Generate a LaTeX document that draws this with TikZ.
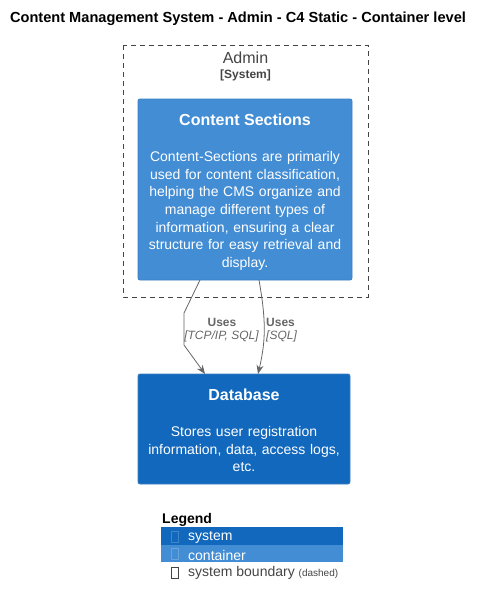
\documentclass[tikz,border=0pt]{standalone}
\usepackage{fontspec}
\setmainfont{Liberation Sans}
\usetikzlibrary{arrows.meta}
\definecolor{sysblue}{HTML}{1168BD}
\definecolor{sysborder}{HTML}{3C7FC0}
\definecolor{contblue}{HTML}{438DD5}
\definecolor{contborder}{HTML}{3C7FC0}
\definecolor{relgray}{HTML}{666666}
\definecolor{bndgray}{HTML}{444444}
\newcommand{\fsz}[1]{\fontsize{#1}{#1}\selectfont}
\tikzset{
  cbox/.style={draw=contborder, fill=contblue, rounded corners=2pt, line width=0.8pt},
  sbox/.style={draw=sysborder, fill=sysblue, rounded corners=2pt, line width=0.8pt},
  boxtitle/.style={text=white, font=\fsz{16}\bfseries, anchor=center, inner sep=0},
  boxtext/.style={text=white, font=\fontsize{14}{17.7}\selectfont, align=center, anchor=north, inner sep=0},
  rel/.style={draw=relgray, line width=0.8pt, -{Stealth[length=9pt,width=7pt]}},
  rellabel/.style={text=relgray, inner sep=0, anchor=center},
  boundary/.style={draw=bndgray, dashed, dash pattern=on 5pt off 4pt, line width=0.8pt},
}
\begin{document}
\begin{tikzpicture}[x=1pt,y=-1pt]
\useasboundingbox (0,0) rectangle (483,605);
% title
\node[font=\fsz{14.6}\bfseries, inner sep=0] (title) at (238,19) {Content Management System - Admin - C4 Static - Container level};
% boundary
\draw[boundary] (123,45) rectangle (368,297);
\node[text=bndgray, font=\fsz{16}, inner sep=0] (admin) at (245.5,58) {Admin};
\node[text=bndgray, font=\fsz{12}\bfseries, inner sep=0] (adminsys) at (245.5,75) {[System]};
% content sections
\path[cbox] (138,99) rectangle (352,280);
\node[boxtitle] (cstitle) at (245,120) {Content Sections};
\node[boxtext, text width=212pt] (csdesc) at (245,151) {Content-Sections are primarily\\used for content classification,\\helping the CMS organize and\\manage different types of\\information, ensuring a clear\\structure for easy retrieval and\\display.};
% database
\path[sbox] (138,374) rectangle (350,484);
\node[boxtitle] (dbtitle) at (244,395) {Database};
\node[boxtext, text width=210pt] (dbdesc) at (244,426) {Stores user registration\\information, data, access logs,\\etc.};
% connectors
\coordinate (r1s) at (200,280);
\coordinate (r1a) at (184,313);
\coordinate (r1b) at (184,345);
\coordinate (r1e) at (205,374);
\draw[rel] (r1s) -- (r1a) -- (r1b) -- (r1e);
\coordinate (r2s) at (259,280);
\coordinate (r2e) at (258,374);
\draw[rel] (r2s) .. controls (266,320) and (266,340) .. (r2e);
\node[rellabel, font=\fsz{12}\bfseries] (u1) at (222,322) {Uses};
\node[rellabel, font=\fsz{12}\itshape] (p1) at (221.5,336) {[TCP/IP, SQL]};
\node[rellabel, font=\fsz{12}\bfseries, anchor=west] (u2) at (266,322) {Uses};
\node[rellabel, font=\fsz{12}\itshape, anchor=west] (p2) at (266,336) {[SQL]};
% legend
\node[font=\fsz{14}\bfseries, anchor=west, inner sep=0] (legend) at (162,520) {Legend};
\fill[sysblue] (161,527) rectangle (343,545);
\fill[contblue] (161,545) rectangle (343,562);
\draw[draw=white, draw opacity=0.2, line width=0.6pt] (171,531) rectangle (178,542);
\draw[draw=white, draw opacity=0.2, line width=0.6pt] (171,548) rectangle (178,559);
\draw[draw=bndgray, line width=0.6pt] (171,567) rectangle (178,578);
\node[text=white, font=\fsz{14}, anchor=west, inner sep=0] (lsys) at (188,537) {system};
\node[text=white, font=\fsz{14}, anchor=west, inner sep=0] (lcont) at (188,555) {container};
\node[text=bndgray, font=\fsz{14}, anchor=west, inner sep=0] (lbnd) at (188,573) {system boundary \fsz{10}(dashed)};
\end{tikzpicture}
\end{document}
